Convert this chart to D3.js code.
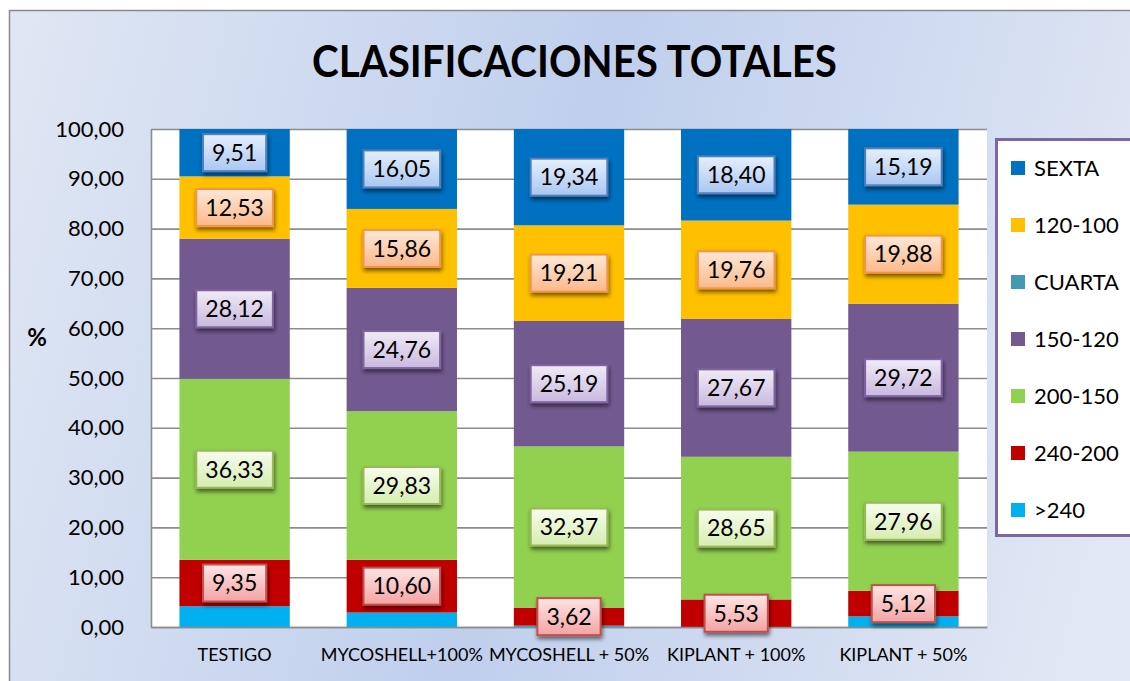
<!DOCTYPE html>
<html>
<head>
<meta charset="utf-8">
<script src="https://cdn.jsdelivr.net/npm/d3@7"></script>
<style>
  html, body { margin: 0; padding: 0; background: #fff; }
  svg { display: block; }
  text { font-family: Lato, "Open Sans", "DejaVu Sans", sans-serif; }
</style>
</head>
<body>
<svg id="chart" width="1130" height="681"></svg>
<script>
// ---- DATA ----
const categories = ["TESTIGO", "MYCOSHELL+100%", "MYCOSHELL + 50%", "KIPLANT + 100%", "KIPLANT + 50%"];
const seriesNames = [">240", "240-200", "200-150", "150-120", "CUARTA", "120-100", "SEXTA"]; // bottom -> top
const gt240      = [4.16, 2.90, 0.27, 0.00, 2.13];
const s240_200   = [9.35, 10.60, 3.62, 5.53, 5.12];
const s200_150   = [36.33, 29.83, 32.37, 28.65, 27.96];
const s150_120   = [28.12, 24.76, 25.19, 27.67, 29.72];
const cuarta     = [0, 0, 0, 0, 0];
const s120_100   = [12.53, 15.86, 19.21, 19.76, 19.88];
const sexta      = [9.51, 16.05, 19.34, 18.40, 15.19];
const yTicks     = [0, 10, 20, 30, 40, 50, 60, 70, 80, 90, 100];
const labelledSeries = ["240-200", "200-150", "150-120", "120-100", "SEXTA"];
const legendOrder = ["SEXTA", "120-100", "CUARTA", "150-120", "200-150", "240-200", ">240"];

const seriesValues = {">240": gt240, "240-200": s240_200, "200-150": s200_150, "150-120": s150_120,
                      "CUARTA": cuarta, "120-100": s120_100, "SEXTA": sexta};

// ---- STYLES ----
const colors = {">240": "#00B0F0", "240-200": "#C00000", "200-150": "#92D050", "150-120": "#72598F",
                "CUARTA": "#4599B0", "120-100": "#FFC000", "SEXTA": "#0070C0"};
const labelStyle = {
  "SEXTA":   {top: "#e6effc", bot: "#a9c7f1", stroke: "#4f7fc0"},
  "120-100": {top: "#fde8d8", bot: "#fbb98a", stroke: "#f59446"},
  "150-120": {top: "#f0ebf6", bot: "#c9b9df", stroke: "#8064a2"},
  "200-150": {top: "#f7fcee", bot: "#d6edb0", stroke: "#98b957"},
  "240-200": {top: "#fde5e5", bot: "#f4a3a3", stroke: "#c0504d"}
};

const table = categories.map((c, i) => {
  const row = {cat: c};
  seriesNames.forEach(s => row[s] = seriesValues[s][i]);
  return row;
});

const svg = d3.select("#chart");
const defs = svg.append("defs");

// background gradient
const bg = defs.append("linearGradient").attr("id", "bg").attr("x1", 0).attr("y1", 0).attr("x2", 1).attr("y2", 0.15);
bg.append("stop").attr("offset", 0).attr("stop-color", "#e0e7f4");
bg.append("stop").attr("offset", 0.5).attr("stop-color", "#bfcfec");
bg.append("stop").attr("offset", 1).attr("stop-color", "#e1e7f4");

// shadow filter
const f = defs.append("filter").attr("id", "shadow").attr("x", "-20%").attr("y", "-20%").attr("width", "150%").attr("height", "160%");
f.append("feGaussianBlur").attr("in", "SourceAlpha").attr("stdDeviation", 2).attr("result", "b");
f.append("feOffset").attr("in", "b").attr("dx", 1).attr("dy", 3).attr("result", "o");
f.append("feComponentTransfer").attr("in", "o").attr("result", "o2")
  .append("feFuncA").attr("type", "linear").attr("slope", 0.55);
const fm = f.append("feMerge");
fm.append("feMergeNode").attr("in", "o2");
fm.append("feMergeNode").attr("in", "SourceGraphic");

Object.keys(labelStyle).forEach(k => {
  const g = defs.append("linearGradient").attr("id", "lg" + k.replace(/[^A-Za-z0-9]/g, "_"))
    .attr("x1", 0).attr("y1", 0).attr("x2", 0).attr("y2", 1);
  g.append("stop").attr("offset", 0).attr("stop-color", labelStyle[k].top);
  g.append("stop").attr("offset", 1).attr("stop-color", labelStyle[k].bot);
});

// outer chart area
svg.append("rect").attr("x", 9.5).attr("y", 10.5).attr("width", 1200).attr("height", 700)
  .attr("fill", "url(#bg)").attr("stroke", "#8a8a8a").attr("stroke-width", 1.5);

// title
svg.append("text").attr("x", 574.5).attr("y", 77).attr("text-anchor", "middle")
  .attr("font-size", 43).attr("font-weight", 700).attr("fill", "#000")
  .attr("textLength", 525).attr("lengthAdjust", "spacingAndGlyphs")
  .text("CLASIFICACIONES TOTALES");

// plot area
const plot = {left: 151, right: 987, top: 129, bottom: 627};
const x = d3.scaleBand().domain(categories).range([plot.left, plot.right]).paddingInner(0.34).paddingOuter(0.17);
const y = d3.scaleLinear().domain([0, 100]).range([plot.bottom, plot.top]);

svg.append("rect").attr("x", plot.left).attr("y", plot.top)
  .attr("width", plot.right - plot.left).attr("height", plot.bottom - plot.top).attr("fill", "#fff");

// gridlines via axis
const grid = svg.append("g").attr("transform", `translate(${plot.left},0)`)
  .call(d3.axisRight(y).tickValues(yTicks).tickSize(plot.right - plot.left).tickFormat(""));
grid.select(".domain").remove();
grid.selectAll(".tick line").attr("stroke", "#8c8c8c").attr("stroke-width", 1.6);

// y axis labels
const yAxis = svg.append("g").attr("transform", `translate(${plot.left},0)`)
  .call(d3.axisLeft(y).tickValues(yTicks).tickSize(0).tickPadding(27)
    .tickFormat(d => d3.format(".2f")(d).replace(".", ",")));
yAxis.select(".domain").attr("stroke", "#8c8c8c").attr("stroke-width", 1.6);
yAxis.selectAll(".tick text").attr("font-size", 22).attr("fill", "#000")
  .attr("font-family", "Lato, 'Open Sans', sans-serif");

svg.append("text").attr("x", 37).attr("y", 346).attr("text-anchor", "middle")
  .attr("font-size", 24).attr("font-weight", 700).text("%");

// stacked bars
const stack = d3.stack().keys(seriesNames)(table);
const layers = svg.append("g").selectAll("g").data(stack).join("g")
  .attr("fill", d => colors[d.key]);
layers.selectAll("rect").data(d => d).join("rect")
  .attr("x", d => x(d.data.cat))
  .attr("width", x.bandwidth())
  .attr("y", d => y(d[1]))
  .attr("height", d => Math.max(0, y(d[0]) - y(d[1])));

// bottom axis with category labels
const xAxis = svg.append("g").attr("transform", `translate(0,${plot.bottom})`)
  .call(d3.axisBottom(x).tickSize(0).tickPadding(21));
xAxis.select(".domain").attr("stroke", "#8c8c8c").attr("stroke-width", 1.6);
xAxis.selectAll(".tick text").attr("font-size", 18).attr("fill", "#000")
  .attr("font-family", "Lato, 'Open Sans', sans-serif");

// data labels
const labG = svg.append("g");
stack.filter(s => labelledSeries.includes(s.key)).forEach(s => {
  const st = labelStyle[s.key];
  const gid = "url(#lg" + s.key.replace(/[^A-Za-z0-9]/g, "_") + ")";
  s.forEach(d => {
    const val = d[1] - d[0];
    if (val <= 0) return;
    const cx = x(d.data.cat) + x.bandwidth() / 2;
    const cy = (y(d[0]) + y(d[1])) / 2;
    const g = labG.append("g").attr("transform", `translate(${cx},${cy})`);
    const r = g.append("rect").attr("fill", gid).attr("stroke", st.stroke).attr("stroke-width", 2)
      .attr("filter", "url(#shadow)");
    const t = g.append("text").attr("text-anchor", "middle").attr("dy", "0.36em")
      .attr("font-size", 23).attr("fill", "#000")
      .text(d3.format(".2f")(seriesValues[s.key][categories.indexOf(d.data.cat)]).replace(".", ","));
    const w = t.node().getComputedTextLength() + 18;
    const h = 37;
    r.attr("x", -w / 2).attr("y", -h / 2).attr("width", w).attr("height", h);
  });
});

// legend
const lg = svg.append("g");
lg.append("rect").attr("x", 996.5).attr("y", 139.5).attr("width", 200).attr("height", 396)
  .attr("fill", "#fff").attr("stroke", "#7f66a0").attr("stroke-width", 3);
const ly = d3.scalePoint().domain(legendOrder).range([168, 510]);
legendOrder.forEach(k => {
  lg.append("rect").attr("x", 1011).attr("y", ly(k) - 7).attr("width", 14).attr("height", 14).attr("fill", colors[k]);
  lg.append("text").attr("x", 1034).attr("y", ly(k)).attr("dy", "0.36em")
    .attr("font-size", 22).attr("fill", "#000").text(k);
});
</script>
</body>
</html>
